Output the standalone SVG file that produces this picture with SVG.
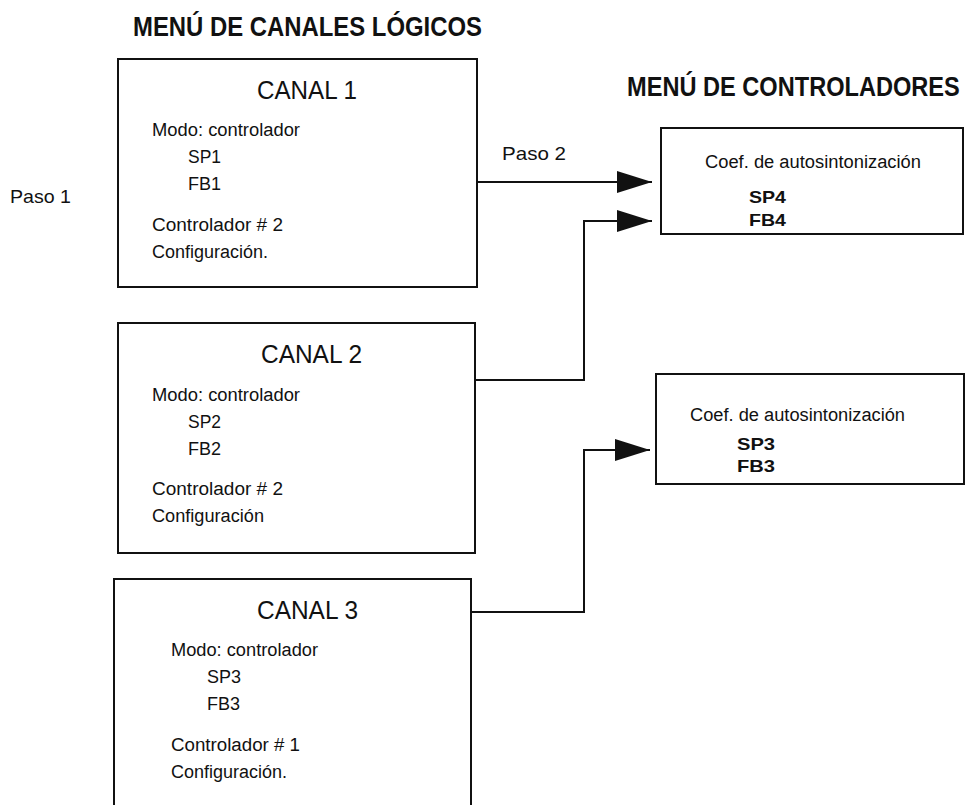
<svg xmlns="http://www.w3.org/2000/svg" width="968" height="805" viewBox="0 0 968 805">
  <style>
    text { font-family: "Liberation Sans", Arial, sans-serif; fill: #111; }
    .title { font-size: 27px; font-weight: bold; }
    .canal { font-size: 26px; }
    .body { font-size: 18px; }
    .paso { font-size: 19px; }
    .coef { font-size: 18px; }
    .val { font-size: 17px; font-weight: bold; }
    .box { fill: #fff; stroke: #111; stroke-width: 2; }
    .conn { fill: none; stroke: #111; stroke-width: 2; }
  </style>
  <defs>
    <marker id="arrow" markerUnits="userSpaceOnUse" markerWidth="36" markerHeight="22" refX="35" refY="11" orient="auto">
      <path d="M0,0 L35,11 L0,22 z" fill="#111"/>
    </marker>
  </defs>

  <rect width="968" height="805" fill="#fff"/>

  <!-- headings (condensed to the narrow face) -->
  <text class="title" x="133" y="36" textLength="349" lengthAdjust="spacingAndGlyphs">MENÚ DE CANALES LÓGICOS</text>
  <text class="title" transform="translate(627,96) scale(0.874,1)">MENÚ DE CONTROLADORES</text>
  <text class="paso" x="10" y="203" textLength="61" lengthAdjust="spacingAndGlyphs">Paso 1</text>
  <text class="paso" x="502" y="160" textLength="64" lengthAdjust="spacingAndGlyphs">Paso 2</text>

  <!-- logical channels -->
  <g id="canal1">
    <rect class="box" x="118" y="59" width="359" height="228"/>
    <text class="canal" x="257" y="99" textLength="100" lengthAdjust="spacingAndGlyphs">CANAL 1</text>
    <text class="body" x="152" y="136" textLength="148" lengthAdjust="spacingAndGlyphs">Modo: controlador</text>
    <text class="body" x="188" y="163" textLength="33" lengthAdjust="spacingAndGlyphs">SP1</text>
    <text class="body" x="188" y="190" textLength="33" lengthAdjust="spacingAndGlyphs">FB1</text>
    <text class="body" x="152" y="231" textLength="131" lengthAdjust="spacingAndGlyphs">Controlador  # 2</text>
    <text class="body" x="152" y="258" textLength="116" lengthAdjust="spacingAndGlyphs">Configuración.</text>
  </g>

  <g id="canal2">
    <rect class="box" x="118" y="323" width="357" height="230"/>
    <text class="canal" x="261" y="363" textLength="101" lengthAdjust="spacingAndGlyphs">CANAL 2</text>
    <text class="body" x="152" y="401" textLength="148" lengthAdjust="spacingAndGlyphs">Modo: controlador</text>
    <text class="body" x="188" y="428" textLength="33" lengthAdjust="spacingAndGlyphs">SP2</text>
    <text class="body" x="188" y="455" textLength="33" lengthAdjust="spacingAndGlyphs">FB2</text>
    <text class="body" x="152" y="495" textLength="131" lengthAdjust="spacingAndGlyphs">Controlador  # 2</text>
    <text class="body" x="152" y="522" textLength="112" lengthAdjust="spacingAndGlyphs">Configuración</text>
  </g>

  <g id="canal3">
    <rect class="box" x="114" y="579" width="357" height="250"/>
    <text class="canal" x="257" y="619" textLength="101" lengthAdjust="spacingAndGlyphs">CANAL 3</text>
    <text class="body" x="171" y="656" textLength="147" lengthAdjust="spacingAndGlyphs">Modo: controlador</text>
    <text class="body" x="207" y="683" textLength="34" lengthAdjust="spacingAndGlyphs">SP3</text>
    <text class="body" x="207" y="710" textLength="33" lengthAdjust="spacingAndGlyphs">FB3</text>
    <text class="body" x="171" y="751" textLength="129" lengthAdjust="spacingAndGlyphs">Controlador  # 1</text>
    <text class="body" x="171" y="778" textLength="116" lengthAdjust="spacingAndGlyphs">Configuración.</text>
  </g>

  <!-- controllers -->
  <g id="controlador1">
    <rect class="box" x="661" y="128" width="302" height="106"/>
    <text class="coef" x="705" y="168" textLength="216" lengthAdjust="spacingAndGlyphs">Coef. de autosintonización</text>
    <text class="val" x="749" y="203" textLength="37" lengthAdjust="spacingAndGlyphs">SP4</text>
    <text class="val" x="749" y="226" textLength="37" lengthAdjust="spacingAndGlyphs">FB4</text>
  </g>

  <g id="controlador2">
    <rect class="box" x="656" y="374" width="308" height="110"/>
    <text class="coef" x="690" y="421" textLength="215" lengthAdjust="spacingAndGlyphs">Coef. de autosintonización</text>
    <text class="val" x="737" y="450" textLength="38" lengthAdjust="spacingAndGlyphs">SP3</text>
    <text class="val" x="737" y="472" textLength="38" lengthAdjust="spacingAndGlyphs">FB3</text>
  </g>

  <!-- connectors -->
  <g id="connectors">
    <path class="conn" d="M477,182 H652" marker-end="url(#arrow)"/>
    <path class="conn" d="M475,380 H584 V221 H652" marker-end="url(#arrow)"/>
    <path class="conn" d="M471,612 H584 V450 H650" marker-end="url(#arrow)"/>
  </g>
</svg>
